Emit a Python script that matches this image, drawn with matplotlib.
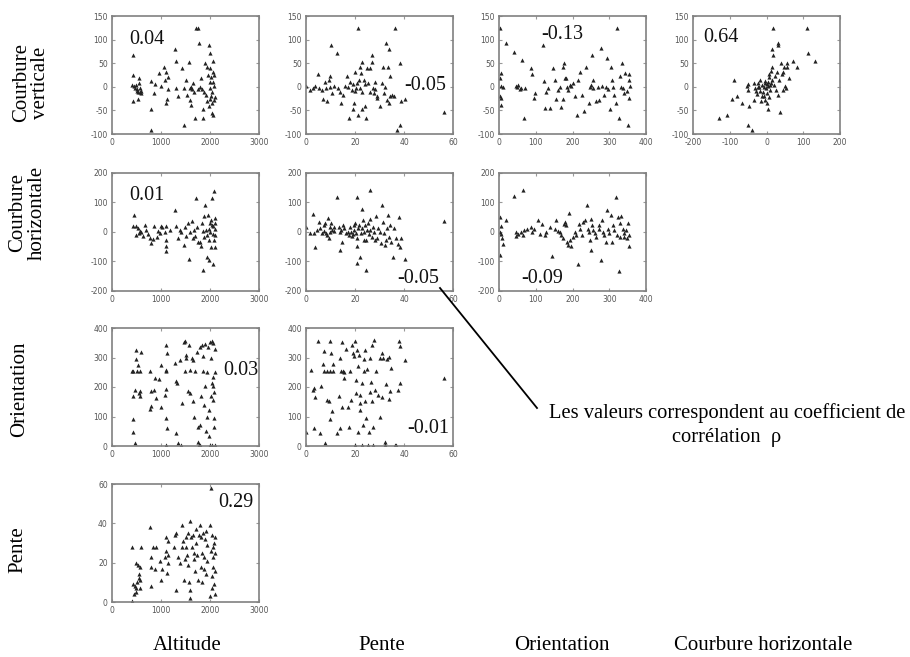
import matplotlib
matplotlib.use("Agg")
import matplotlib.pyplot as plt
from matplotlib.lines import Line2D

plt.rcParams["axes.unicode_minus"] = False

# ===============================
# Data (x, y) per panel
# ===============================
col_names = ["Altitude", "Pente", "Orientation", "Courbure horizontale"]
row_names = ["Courbure\nverticale", "Courbure\nhorizontale", "Orientation", "Pente"]

# row 1 : Courbure verticale
alt_cv = [(420, 67), (430, 25), (410, 3), (440, 2), (460, -3), (480, 4), (500, -8), (520, -5), (540, -12),
          (560, 18), (570, -2), (580, -10), (600, -8), (590, -14), (430, -31), (530, -26), (550, 8),
          (790, 13), (800, -47), (790, -91), (850, -13), (880, 6), (960, 30), (1000, 2), (1060, 43),
          (1090, 15), (1100, -34), (1110, 32), (1130, -26), (1150, 20), (1140, -5), (1280, 81), (1310, 55),
          (1300, -3), (1350, -20), (1420, 39), (1460, -3), (1470, -80), (1520, 15), (1530, -17), (1570, 53),
          (1590, -3), (1600, -27), (1620, -38), (1650, 8), (1640, -5), (1690, -66), (1610, 0), (1680, -10),
          (1710, 124), (1750, 124), (1780, 92), (1820, 18), (1830, -5), (1860, -48), (1850, -66), (1890, 50),
          (1910, -17), (1930, 43), (1940, -30), (1960, 25), (1980, 88), (1990, 10), (2000, -3), (2010, 71),
          (2030, -20), (2040, -55), (2060, 55), (2060, 32), (2070, 11), (2080, -27), (2050, -35), (2090, 2),
          (2100, -22), (2070, -60), (2020, 20), (1970, -40), (1880, -10), (1800, 0), (1760, -5), (2010, 40),
          (2090, 25), (2040, -10), (1990, -25)]
pente_cv = [(0, 2), (1.8, -6), (2.9, -3), (3.8, 2), (4.9, 27), (5.5, -3), (6.5, -6), (6.9, -26), (7.6, 11),
            (8, -3), (8.6, -31), (9.3, 15), (9.6, 22), (9.9, 0), (10.3, 88), (10.6, -13), (11.3, 2),
            (12.6, 72), (13.2, -3), (14, -10), (14.3, -34), (15, -17), (16, 2), (16.7, 22), (17.7, -66),
            (18, 11), (18.7, -6), (19.2, -48), (19.5, -34), (20.1, 32), (20.5, -3), (21.3, 124), (21.3, -59),
            (21.7, 15), (22.2, 43), (22.4, 29), (22.9, 53), (22.9, -48), (23.8, 15), (24.2, -40), (24.6, -66),
            (25, 39), (25.2, 8), (26.3, 39), (26.9, 67), (26.9, 53), (27.3, -3), (27.9, -13), (28.3, 11),
            (29, -20), (29, -24), (30.3, -41), (31, 8), (31.4, 43), (31.9, -13), (32.3, 0), (32.8, 92),
            (33, -27), (33.3, 43), (33.9, 81), (33.8, -34), (34.1, 22), (34.3, -20), (35, -17), (35.8, -19),
            (36.5, 124), (37.1, -91), (38.2, -80), (38.5, 50), (38.8, -31), (40.5, -26), (56.5, -54),
            (17, 0), (19, 5), (20, -8), (22, -2), (24, 5), (26, -10), (28, -5), (21, 8), (23, -12)]
ori_cv = [(4, 124), (6, 30), (4, 18), (6, 2), (11, 0), (4, -20), (6, -24), (5, -38), (20, 93), (40, 74),
          (45, 2), (49, -1), (51, 4), (56, -5), (60, -2), (70, -3), (63, 57), (68, -66), (88, 39), (90, 27),
          (94, -24), (98, -13), (124, -45), (119, 88), (123, 13), (127, -10), (134, -3), (138, -45),
          (147, 39), (152, 15), (156, -26), (161, -6), (165, -1), (170, -43), (174, -26), (176, 51), (174, 43),
          (179, 18), (183, 18), (185, -1), (188, -6), (192, 4), (197, 2), (201, 9), (206, -20), (212, -59),
          (215, 15), (221, 32), (227, -17), (230, -52), (237, 43), (246, -34), (248, -1), (251, 4), (254, 67),
          (255, -3), (257, 15), (264, -31), (269, -1), (273, -27), (278, 82), (281, 2), (285, -17), (290, -1),
          (293, 60), (296, -5), (301, -48), (305, 41), (308, 15), (311, -1), (314, -17), (319, -35),
          (320, 124), (326, -66), (328, 22), (332, -1), (335, 50), (337, -3), (341, -13), (344, 30),
          (347, -8), (350, -80), (353, 15), (355, -24), (355, 27), (357, 2)]
ch_cv = [(-130, -66), (-108, -59), (-94, -26), (-88, 15), (-81, -20), (-67, -34), (-53, 2), (-51, 6),
         (-49, -6), (-47, -41), (-49, -80), (-39, -91), (-35, -27), (-33, 8), (-31, -3), (-26, -15),
         (-24, -1), (-22, 8), (-19, -8), (-17, 15), (-15, -31), (-13, 4), (-10, -10), (-8, -1), (-6, -20),
         (-4, 8), (-2, -3), (1, -13), (3, 11), (3, -48), (5, 1), (6, 27), (8, 20), (10, -6), (12, 34),
         (14, 43), (14, 81), (16, 15), (17, 124), (19, 67), (20, 4), (23, 22), (25, -6), (28, 32), (30, -17),
         (30, 92), (32, 88), (35, 15), (37, -54), (39, 51), (41, 27), (44, -6), (46, 32), (48, 43), (51, 2),
         (53, -3), (55, 50), (57, 41), (60, 18), (73, 55), (84, 43), (109, 124), (114, 72), (132, 54),
         (-12, -20), (-5, -28), (0, -35), (2, 5), (-20, 0), (-28, -8), (7, -22), (9, 3), (-3, 12), (11, 8)]

# row 2 : Courbure horizontale
alt_ch = [(450, 56), (430, 21), (480, 20), (530, 12), (566, 4), (600, 0), (498, -11), (634, -14),
          (552, -3), (668, 23), (702, 8), (736, -7), (770, -22), (804, -37), (838, -25), (862, 20),
          (913, -16), (947, 4), (988, -3), (1009, 20), (1030, 18), (1077, 0), (1111, 20), (1111, -28),
          (1111, -48), (1111, -64), (1179, 6), (1282, 76), (1296, 20), (1350, -22), (1384, 6), (1418, 0),
          (1466, -45), (1486, 18), (1520, -14), (1555, 29), (1589, 0), (1623, 38), (1643, -22), (1677, 6),
          (1691, -14), (1725, 18), (1759, -33), (1575, -91), (1711, 116), (1793, -33), (1813, -48),
          (1827, 29), (1861, 4), (1875, -16), (1875, 53), (1888, 90), (1850, -130), (1943, -11), (1940, -84),
          (1963, 56), (1977, 11), (1984, -28), (1970, -95), (2004, 0), (2011, 40), (2025, -50), (2038, 23),
          (2045, 115), (2065, -7), (2065, -107), (2079, 139), (2079, -27), (2093, 49), (2093, 11),
          (2099, -52), (2100, -11), (2110, 31), (2070, 20), (1920, 8), (1990, 30)]
pente_ch = [(0, 17), (1.8, -3), (2.9, 60), (3.2, -3), (3.8, -50), (4.5, 6), (5.2, 34), (5.6, 12),
            (6.5, -3), (7.2, 23), (7.5, 4), (7.9, 29), (8.3, -3), (8.6, -11), (8.8, 49), (9.3, -19),
            (9.7, 0), (9.9, 17), (10.3, 31), (10.6, 6), (11.3, 4), (11.6, 17), (12.7, 117), (13.3, 17),
            (13.7, 0), (14, -62), (14.3, 6), (14.7, -33), (15.1, 23), (15.6, 12), (16.5, -3), (17, 0),
            (17.4, -11), (17.8, 17), (18.4, 0), (18.8, -14), (19.2, -7), (19.5, 6), (19.7, 23), (20.1, 31),
            (20.5, -3), (20.8, -19), (20.8, 117), (20.8, -48), (20.8, -104), (21.2, 12), (21.6, 23),
            (22.2, -86), (22.4, -5), (22.9, 12), (22.9, 79), (23.3, 42), (23.5, 0), (23.8, -28), (24.2, 23),
            (24.6, -129), (24.6, -28), (24.9, 6), (25.2, 31), (25.6, -7), (26, 45), (26.3, 6), (26.3, 141),
            (26.9, -16), (27.3, 17), (27.8, 0), (28.1, -28), (28.5, 53), (28.8, -22), (29.2, 12), (30, 0),
            (30.5, -36), (31.2, 90), (31.4, 34), (31.9, -5), (32.2, -44), (32.7, -28), (33, 12), (33.3, 56),
            (33.7, -16), (34.1, 23), (34.7, -33), (35.5, -86), (36, 12), (36.7, -22), (37.8, 51),
            (37.6, -39), (38.5, -50), (38.8, -22), (40.5, -90), (56.5, 37)]
ori_ch = [(2, 50), (6, 22), (4, 0), (6, -6), (9, -22), (11, -39), (4, -78), (20, 39), (41, 122), (65, 142),
          (45, 0), (47, -13), (51, -6), (60, 0), (65, -11), (69, 6), (75, 11), (88, 17), (90, 0), (96, 9),
          (105, 39), (111, -6), (116, 28), (125, -11), (129, 0), (138, 17), (145, -82), (152, 11), (156, 42),
          (161, 2), (165, 0), (170, -11), (174, -22), (176, 26), (179, 34), (183, 23), (185, -33),
          (188, -44), (190, 63), (194, -28), (197, -48), (201, -17), (206, 0), (210, -11), (215, -107),
          (217, 28), (221, 11), (227, -11), (228, 34), (233, 42), (239, 90), (242, 11), (246, 0),
          (248, -28), (251, 45), (251, -62), (254, 23), (255, 6), (260, -3), (264, -17), (272, 23),
          (273, 11), (278, -94), (281, 39), (282, 0), (287, -11), (291, -33), (294, 76), (297, 11),
          (300, -3), (305, 56), (308, -33), (311, 23), (314, 6), (319, 117), (320, -11), (323, 50),
          (326, -131), (328, 30), (330, -17), (332, 54), (337, 11), (339, -3), (341, -17), (345, 6),
          (349, -22), (350, 30), (355, -48), (355, -11)]

# row 3 : Orientation
alt_ori = [(409, 255), (430, 253), (464, 190), (484, 324), (498, 295), (511, 253), (532, 275), (552, 181),
           (566, 253), (580, 170), (566, 188), (600, 317), (430, 49), (430, 91), (464, 9), (430, 168),
           (784, 253), (804, 134), (784, 125), (804, 185), (852, 190), (872, 230), (893, 162), (961, 227),
           (1009, 275), (1009, 131), (1077, 173), (1097, 258), (1111, 255), (1111, 343), (1125, 315),
           (1111, 194), (1111, 94), (1125, 60), (1111, 3), (1282, 283), (1296, 219), (1316, 43), (1330, 213),
           (1350, 11), (1384, 292), (1418, 3), (1438, 145), (1466, 352), (1486, 355), (1486, 253),
           (1500, 298), (1520, 309), (1555, 185), (1575, 343), (1589, 179), (1602, 258), (1623, 298),
           (1657, 292), (1691, 255), (1677, 100), (1657, 151), (1725, 320), (1745, 66), (1759, 15),
           (1780, 3), (1793, 3), (1793, 335), (1813, 168), (1806, 71), (1827, 343), (1861, 304),
           (1861, 255), (1875, 139), (1895, 346), (1895, 202), (1916, 52), (1930, 250), (1943, 100),
           (1963, 335), (1977, 34), (1984, 122), (1997, 3), (1997, 351), (2011, 298), (2011, 168),
           (2031, 355), (2045, 213), (2045, 3), (2052, 233), (2065, 349), (2065, 156), (2079, 94),
           (2086, 63), (2093, 329), (2093, 252), (2093, 3), (2079, 184), (2065, 202)]
pente_ori = [(0, 49), (2, 256), (2.9, 190), (3.2, 196), (3.4, 60), (3.8, 165), (5, 355), (5.9, 43),
             (6.3, 202), (6.9, 279), (7.5, 321), (7.5, 253), (7.9, 9), (8.6, 253), (8.6, 156), (9.3, 151),
             (9.6, 355), (9.9, 253), (9.9, 91), (10.2, 315), (10.6, 120), (11, 253), (11, 279), (12.7, 43),
             (13.3, 170), (13.7, 298), (14, 60), (14.4, 253), (14.7, 351), (14.7, 131), (15.1, 253),
             (15.4, 250), (15.6, 230), (16.5, 329), (17, 131), (17.4, 63), (18.1, 253), (18.4, 156),
             (18.8, 343), (19.2, 315), (19.5, 304), (20.1, 355), (20.1, 3), (20.5, 224), (20.5, 179),
             (20.8, 326), (21.1, 270), (21.1, 49), (21.5, 309), (21.9, 145), (22.2, 173), (22.2, 122),
             (22.7, 213), (22.7, 3), (23.3, 71), (23.5, 253), (23.8, 295), (24.2, 326), (24.2, 151),
             (24.6, 94), (24.9, 261), (25.2, 3), (25.6, 49), (26, 184), (26.3, 298), (26.7, 218), (26.9, 343),
             (27.1, 151), (27.3, 3), (27.3, 66), (27.8, 360), (28.1, 190), (28.5, 255), (29.4, 173),
             (30.1, 300), (30.3, 100), (31, 315), (31.2, 167), (31.6, 298), (32.2, 3), (32.4, 15),
             (32.7, 210), (33.2, 295), (33.7, 303), (33.7, 161), (34.3, 185), (34.7, 265), (36.5, 3),
             (36.7, 3), (37.4, 190), (37.8, 355), (38.2, 340), (38.5, 214), (40.5, 290), (56.5, 230)]

# row 4 : Pente
alt_pente = [(416, 28), (416, 0.5), (430, 9), (443, 4), (464, 8), (484, 7), (484, 20), (511, 10), (532, 19),
             (552, 14), (566, 7), (566, 18), (600, 28), (580, 11), (552, 12), (498, 5), (784, 38), (804, 23),
             (804, 18), (804, 8), (838, 28), (893, 28), (872, 17), (975, 21), (1009, 11), (1030, 17),
             (1077, 23), (1111, 33), (1111, 26), (1125, 15), (1145, 20), (1145, 24), (1145, 31), (1261, 28),
             (1282, 34), (1316, 6), (1316, 35), (1350, 23), (1397, 20), (1438, 28), (1438, 39), (1452, 31),
             (1466, 11), (1486, 22), (1500, 28), (1514, 33), (1534, 24), (1548, 19), (1561, 35), (1575, 10),
             (1602, 6), (1602, 2), (1602, 41), (1616, 33), (1636, 28), (1643, 34), (1664, 22), (1677, 25),
             (1691, 16), (1705, 37), (1718, 30), (1739, 24), (1759, 11), (1773, 34), (1793, 39), (1807, 18),
             (1814, 33), (1827, 10), (1841, 25), (1861, 35), (1875, 23), (1882, 17), (1895, 32), (1909, 14),
             (1923, 36), (1936, 21), (1943, 29), (1997, 3), (1997, 39), (2011, 58), (2018, 26), (2031, 13),
             (2031, 7), (2045, 34), (2052, 18), (2065, 28), (2065, 23), (2079, 9), (2086, 30), (2093, 4),
             (2093, 16), (2100, 25), (2100, 33)]

# correlation coefficient and its position (axes fraction) per panel
panels = [
    (0, 0, alt_cv, "0.04", 0.12, 0.80),
    (0, 1, pente_cv, "-0.05", 0.67, 0.41),
    (0, 2, ori_cv, "-0.13", 0.29, 0.84),
    (0, 3, ch_cv, "0.64", 0.07, 0.82),
    (1, 0, alt_ch, "0.01", 0.12, 0.81),
    (1, 1, pente_ch, "-0.05", 0.62, 0.11),
    (1, 2, ori_ch, "-0.09", 0.15, 0.11),
    (2, 0, alt_ori, "0.03", 0.755, 0.64),
    (2, 1, pente_ori, "-0.01", 0.69, 0.15),
    (3, 0, alt_pente, "0.29", 0.72, 0.84),
]

x_ranges = [(0, 3000, 1000), (0, 60, 20), (0, 400, 100), (-200, 200, 100)]
y_ranges = [(-100, 150, 50), (-200, 200, 100), (0, 400, 100), (0, 60, 20)]

# ===============================
# Layout (pixel positions of the reference)
# ===============================
W, H = 910, 657
col_left = [112, 306, 499, 693]
row_top = [16, 173, 328, 484]
ax_w, ax_h = 147, 118

serif = ["Liberation Serif", "DejaVu Serif"]
edge = "#808080"

fig = plt.figure(figsize=(W / 100, H / 100), dpi=100)

for row, col, pts, rho, tx, ty in panels:
    left = col_left[col] / W
    bottom = 1 - (row_top[row] + ax_h) / H
    ax = fig.add_axes([left, bottom, ax_w / W, ax_h / H])
    xs = [p[0] for p in pts]
    ys = [p[1] for p in pts]
    ax.plot(xs, ys, linestyle="none", marker="^", markersize=3.0,
            color="#222222", markeredgewidth=0)

    x0, x1, dx = x_ranges[col]
    y0, y1, dy = y_ranges[row]
    ax.set_xlim(x0, x1)
    ax.set_ylim(y0, y1)
    ax.set_xticks(range(x0, x1 + 1, dx))
    ax.set_yticks(range(y0, y1 + 1, dy))
    ax.tick_params(direction="in", length=2, width=0.8, color="#999999",
                   top=True, right=True, labelsize=5.5, labelcolor="#555555", pad=3)
    for sp in ax.spines.values():
        sp.set_color(edge)
        sp.set_linewidth(1.2)

    ax.text(tx, ty, rho, transform=ax.transAxes, ha="left", va="center",
            fontsize=14.5, family=serif, color="#111111")

# row labels
row_lab_pos = [(31, 83), (27, 213), (20, 389), (18, 550)]
for name, (px, py) in zip(row_names, row_lab_pos):
    fig.text(px / W, 1 - py / H, name, rotation=90, ha="center", va="center",
             fontsize=15, family=serif, linespacing=1.05)

# column labels
col_lab_x = [187, 382, 562, 763]
for name, px in zip(col_names, col_lab_x):
    fig.text(px / W, 1 - 645 / H, name, ha="center", va="center",
             fontsize=15, family=serif)

# annotation
fig.add_artist(Line2D([440 / W, 537 / W], [1 - 288 / H, 1 - 408 / H],
                      transform=fig.transFigure, color="black", linewidth=1.3))
fig.text(727 / W, 1 - 425 / H,
         "Les valeurs correspondent au coefficient de\ncorrélation  \u03c1",
         ha="center", va="center", fontsize=14.8, family=serif, linespacing=1.3)

fig.savefig("out.png", dpi=100)
